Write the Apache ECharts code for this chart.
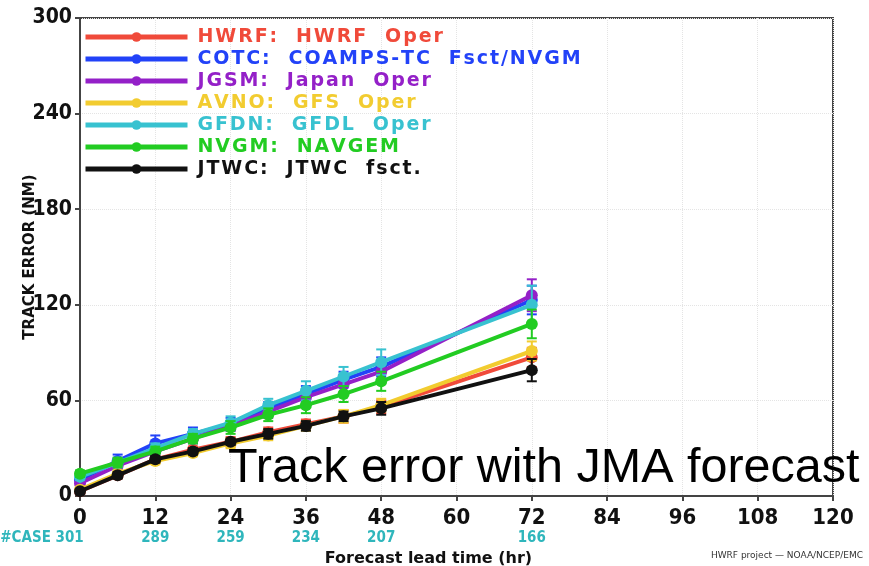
<!DOCTYPE html>
<html>
<head>
<meta charset="utf-8">
<script src="https://cdn.jsdelivr.net/npm/echarts@6/dist/echarts.min.js"></script>
<style>
html,body{margin:0;padding:0;background:#fff;}
#main{width:869px;height:566px;}
</style>
</head>
<body>
<div id="main"></div>
<script>
// lead times (hr)
var hours = [0, 6, 12, 18, 24, 30, 36, 42, 48, 72];

// mean track errors (NM)
var hwrf = [3, 13, 23, 29, 34, 40, 45, 50, 56, 87];
var cotc = [10, 22, 33, 39, 45, 55, 64, 73, 81, 123];
var jgsm = [8, 19, 28, 36, 44, 53, 62, 70, 78, 126];
var avno = [4, 14, 22, 27, 33, 38, 44, 50, 57, 91];
var gfdn = [12, 21, 30, 39, 46, 57, 66, 75, 84, 120];
var nvgm = [14, 21, 28, 36, 43, 51, 57, 64, 72, 108];
var jtwc = [3, 13, 23, 28, 34, 39, 44, 50, 55, 79];

// error bar half-widths
var hwrfErr = [1, 2, 2, 2, 3, 3, 3, 4, 4, 6];
var cotcErr = [2, 4, 5, 4, 4, 4, 5, 5, 6, 9];
var jgsmErr = [1, 2, 3, 3, 3, 4, 4, 5, 5, 10];
var avnoErr = [1, 2, 2, 2, 3, 3, 3, 4, 4, 6];
var gfdnErr = [2, 3, 3, 3, 4, 4, 6, 6, 8, 12];
var nvgmErr = [2, 3, 3, 3, 4, 4, 5, 5, 6, 9];
var jtwcErr = [1, 2, 2, 2, 2, 3, 3, 3, 4, 7];

// number of cases
var caseHours = [0, 12, 24, 36, 48, 72];
var caseCounts = [301, 289, 259, 234, 207, 166];

var names = ['HWRF:  HWRF  Oper', 'COTC:  COAMPS-TC  Fsct/NVGM', 'JGSM:  Japan  Oper',
  'AVNO:  GFS  Oper', 'GFDN:  GFDL  Oper', 'NVGM:  NAVGEM', 'JTWC:  JTWC  fsct.'];
var colors = ['#f04a3a', '#2242f8', '#9420c8', '#f2cc30', '#38c2d0', '#22cc22', '#111111'];
var values = [hwrf, cotc, jgsm, avno, gfdn, nvgm, jtwc];
var errs = [hwrfErr, cotcErr, jgsmErr, avnoErr, gfdnErr, nvgmErr, jtwcErr];

var boldFont = '"Liberation Sans Narrow", "DejaVu Sans Condensed", "Liberation Sans", sans-serif';

// spread letters a bit, like the GrADS font
function spaced(s) {
  return s.split('').join('\u200A');
}

var myChart = echarts.init(document.getElementById('main'));

var series = [];
for (var k = 0; k < values.length; k++) {
  var pts = [], ebs = [];
  for (var i = 0; i < hours.length; i++) {
    pts.push([hours[i], values[k][i]]);
    ebs.push([hours[i], values[k][i], errs[k][i]]);
  }
  series.push({
    name: names[k] + '_err',
    type: 'custom',
    z: 2 + k,
    silent: true,
    data: ebs,
    renderItem: (function (col) {
      return function (params, api) {
        var x = api.value(0), y = api.value(1), e = api.value(2);
        var lo = api.coord([x, y - e]);
        var hi = api.coord([x, y + e]);
        var st = { stroke: col, lineWidth: 2 };
        return {
          type: 'group',
          children: [
            { type: 'line', shape: { x1: lo[0], y1: lo[1], x2: hi[0], y2: hi[1] }, style: st },
            { type: 'line', shape: { x1: lo[0] - 5, y1: lo[1], x2: lo[0] + 5, y2: lo[1] }, style: st },
            { type: 'line', shape: { x1: hi[0] - 5, y1: hi[1], x2: hi[0] + 5, y2: hi[1] }, style: st }
          ]
        };
      };
    })(colors[k])
  });
  series.push({
    name: names[k],
    type: 'line',
    z: 2 + k,
    data: pts,
    symbol: 'circle',
    symbolSize: 12,
    showAllSymbol: true,
    lineStyle: { width: 4, color: colors[k] },
    itemStyle: { color: colors[k] },
    animation: false
  });
}

var legendData = names.map(function (n, i) {
  return { name: n, textStyle: { color: colors[i] } };
});

option = {
  animation: false,
  backgroundColor: '#fff',
  grid: {
    left: 80, right: 36, top: 18, bottom: 70,
    outerBoundsMode: 'none',
    containLabel: false,
    show: true, borderColor: '#444', borderWidth: 2
  },
  legend: {
    data: legendData,
    orient: 'vertical',
    left: 78,
    top: 22,
    itemWidth: 102,
    itemHeight: 12,
    itemGap: 2,
    lineStyle: { width: 5 },
    formatter: spaced,
    textStyle: {
      fontFamily: '"DejaVu Sans", sans-serif',
      fontWeight: 'bold',
      fontSize: 19,
      lineHeight: 20,
      padding: [0, 0, 0, 5]
    }
  },
  xAxis: {
    type: 'value',
    min: 0, max: 120, interval: 12,
    axisLine: { lineStyle: { color: '#444', width: 2 } },
    axisTick: { show: true, length: 5, lineStyle: { color: '#444', width: 2 } },
    splitLine: { show: true, lineStyle: { color: '#e4e4e4', type: 'dotted' } },
    axisLabel: {
      margin: 11,
      formatter: function (v) {
        var s = '{n|' + v + '}';
        var i = caseHours.indexOf(v);
        if (i >= 0) {
          s += '\n' + (v === 0 ? '{c|#CASE ' + caseCounts[i] + '}{gap|}' : '{c|' + caseCounts[i] + '}');
        } else {
          s += '\n{c| }';
        }
        return s;
      },
      rich: {
        n: { fontFamily: boldFont, fontWeight: 'bold', fontSize: 22, color: '#111', lineHeight: 22 },
        c: { fontFamily: boldFont, fontWeight: 'bold', fontSize: 15, color: '#2fb6bc', lineHeight: 18 },
        gap: { width: 76 }
      }
    },
    name: 'Forecast lead time (hr)',
    nameLocation: 'middle',
    nameGap: 46,
    nameTextStyle: {
      fontFamily: '"DejaVu Sans", sans-serif', fontWeight: 'bold', fontSize: 16, color: '#111',
      padding: [0, 56, 0, 0]
    }
  },
  yAxis: {
    type: 'value',
    min: 0, max: 300, interval: 60,
    axisLine: { show: true, lineStyle: { color: '#444', width: 2 } },
    axisTick: { show: true, length: 5, lineStyle: { color: '#444', width: 2 } },
    splitLine: { show: true, lineStyle: { color: '#e4e4e4', type: 'dotted' } },
    axisLabel: {
      margin: 8,
      fontFamily: boldFont, fontWeight: 'bold', fontSize: 21, color: '#111'
    },
    name: 'TRACK ERROR (NM)',
    nameLocation: 'middle',
    nameMoveOverlap: false,
    nameGap: 42,
    nameTextStyle: { fontFamily: '"DejaVu Sans", sans-serif', fontWeight: 'bold', fontSize: 15, color: '#111' }
  },
  graphic: [
    {
      type: 'text', left: 228, top: 444, z: 100,
      style: { text: 'Track error with JMA forecast', font: '48.5px "Liberation Sans", Arial, sans-serif', fill: '#000' }
    },
    {
      type: 'text', right: 6, top: 551, z: 100,
      style: { text: 'HWRF project \u2014 NOAA/NCEP/EMC', font: '9px "DejaVu Sans", sans-serif', fill: '#333' }
    }
  ],
  series: series
};

myChart.setOption(option);
window.onresize = myChart.resize;
</script>
</body>
</html>
